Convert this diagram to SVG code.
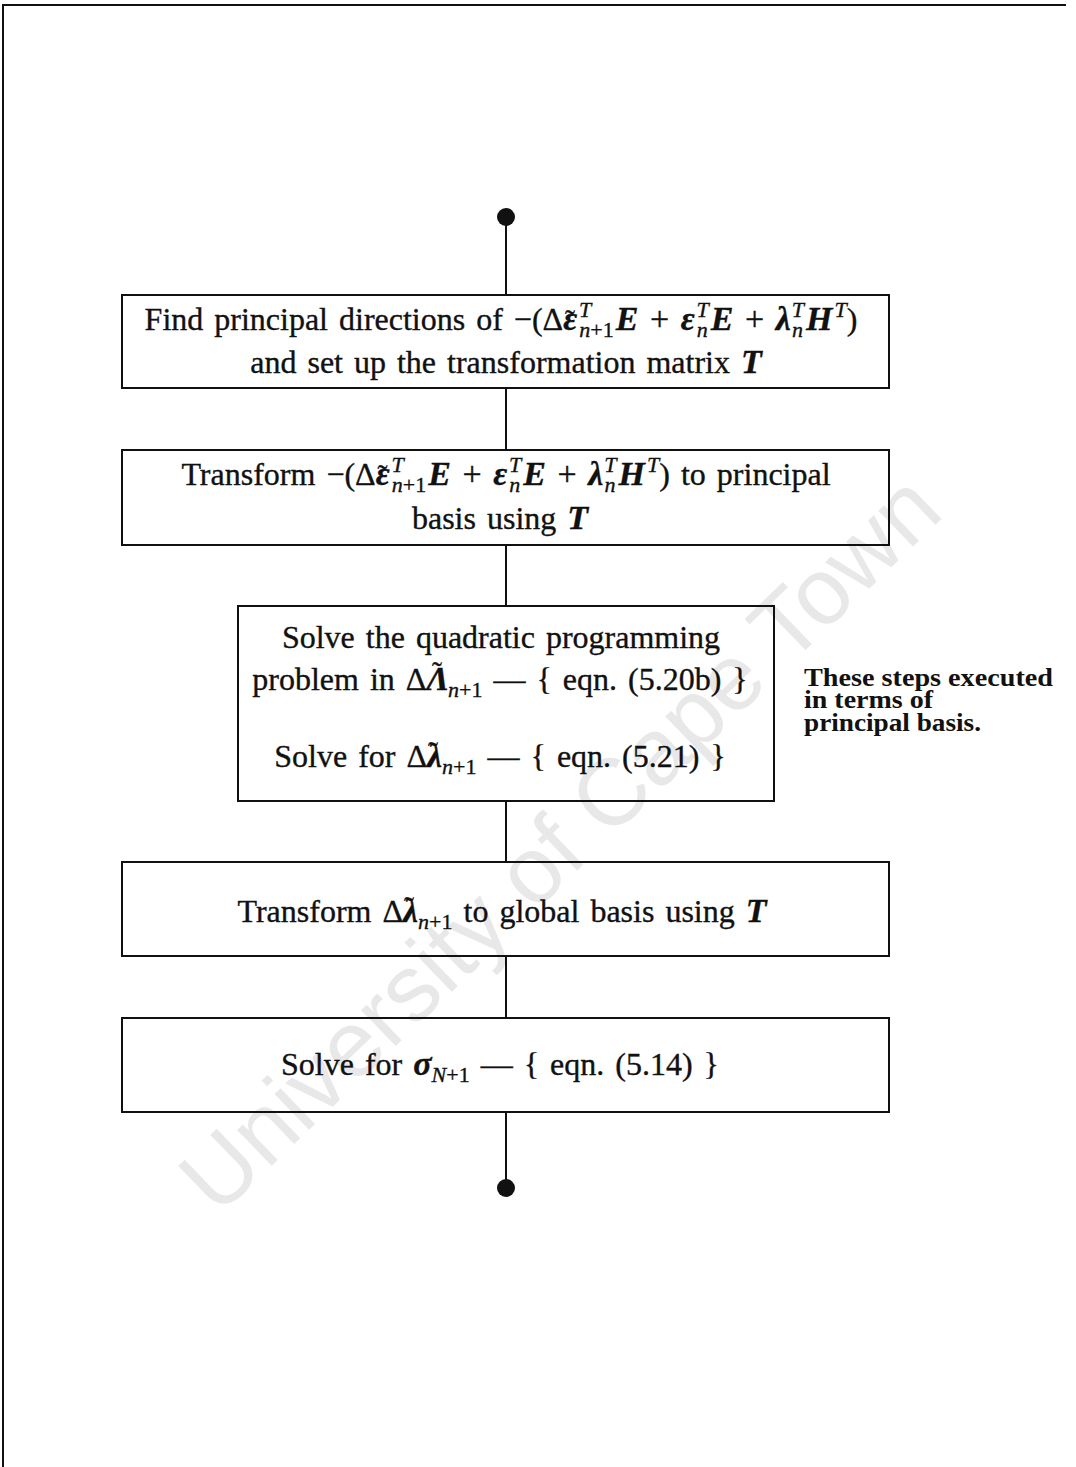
<svg xmlns="http://www.w3.org/2000/svg" width="1076" height="1467" viewBox="0 0 1076 1467">
<style>
.box{fill:none;stroke:#111;stroke-width:2}
.ln{stroke:#111;stroke-width:2;fill:none}
.t{font-family:"Liberation Serif","DejaVu Serif",serif;font-size:32px;fill:#111;word-spacing:3px;stroke:#111;stroke-width:0.35px}
.bi{font-weight:bold;font-style:italic;font-size:34px}
.s{font-size:22px;font-style:italic}
.u{font-style:normal}
.tl{font-size:30px;font-style:normal;font-weight:normal}
.op{font-size:34px}
.note{font-family:"Liberation Serif","DejaVu Serif",serif;font-size:25px;font-weight:bold;fill:#111}
.wm{font-family:"Liberation Sans",Arial,sans-serif;font-size:94px;fill:#e8e8e8}
</style>
<rect width="1076" height="1467" fill="#fff"/>
<text class="wm" text-anchor="middle" transform="translate(582,866) rotate(-44)">University of Cape Town</text>
<path class="ln" d="M3,1467 V5 H1066" stroke-width="2.5"/>
<g id="connectors">
<line class="ln" x1="506" y1="217" x2="506" y2="295"/>
<line class="ln" x1="506" y1="388" x2="506" y2="450"/>
<line class="ln" x1="506" y1="545" x2="506" y2="606"/>
<line class="ln" x1="506" y1="801" x2="506" y2="862"/>
<line class="ln" x1="506" y1="956" x2="506" y2="1018"/>
<line class="ln" x1="506" y1="1112" x2="506" y2="1188"/>
</g>
<g id="start"><circle cx="506" cy="217" r="9" fill="#111"/></g>
<g id="end"><circle cx="506" cy="1188" r="9" fill="#111"/></g>
<g id="step1">
<rect class="box" x="122" y="295" width="767" height="93"/>
<text class="t" x="501" y="330" text-anchor="middle">Find principal directions of −(Δ<tspan class="bi">ε</tspan><tspan class="tl" dx="-12">˜</tspan><tspan class="s" dx="4" dy="-13">T</tspan><tspan class="s" dx="-12" dy="20">n</tspan><tspan class="s u">+1</tspan><tspan class="bi" dx="2" dy="-7">E</tspan><tspan class="op"> + </tspan><tspan class="bi">ε</tspan><tspan class="s" dx="2" dy="-13">T</tspan><tspan class="s" dx="-12" dy="20">n</tspan><tspan class="bi" dx="3" dy="-7">E</tspan><tspan class="op"> + </tspan><tspan class="bi">λ</tspan><tspan class="s" dx="1" dy="-13">T</tspan><tspan class="s" dx="-12" dy="20">n</tspan><tspan class="bi" dx="3" dy="-7">H</tspan><tspan class="s" dx="2" dy="-13">T</tspan><tspan dy="13">)</tspan></text>
<text class="t" x="506" y="373" text-anchor="middle">and set up the transformation matrix <tspan class="bi">T</tspan></text>
</g>
<g id="step2">
<rect class="box" x="122" y="450" width="767" height="95"/>
<text class="t" x="506" y="485" text-anchor="middle">Transform −(Δ<tspan class="bi">ε</tspan><tspan class="tl" dx="-12">˜</tspan><tspan class="s" dx="4" dy="-13">T</tspan><tspan class="s" dx="-12" dy="20">n</tspan><tspan class="s u">+1</tspan><tspan class="bi" dx="2" dy="-7">E</tspan><tspan class="op"> + </tspan><tspan class="bi">ε</tspan><tspan class="s" dx="2" dy="-13">T</tspan><tspan class="s" dx="-12" dy="20">n</tspan><tspan class="bi" dx="3" dy="-7">E</tspan><tspan class="op"> + </tspan><tspan class="bi">λ</tspan><tspan class="s" dx="1" dy="-13">T</tspan><tspan class="s" dx="-12" dy="20">n</tspan><tspan class="bi" dx="3" dy="-7">H</tspan><tspan class="s" dx="2" dy="-13">T</tspan><tspan dy="13">) to principal</tspan></text>
<text class="t" x="500" y="529" text-anchor="middle">basis using <tspan class="bi">T</tspan></text>
</g>
<g id="step3">
<rect class="box" x="238" y="606" width="536" height="195"/>
<text class="t" x="501" y="648" text-anchor="middle">Solve the quadratic programming</text>
<text class="t" x="500" y="690" text-anchor="middle">problem in Δ<tspan class="bi">Λ</tspan><tspan class="tl" dx="-17" dy="-8">˜</tspan><tspan class="s" dx="6" dy="15">n</tspan><tspan class="s u">+1</tspan><tspan dy="-7"> — { eqn. (5.20b) }</tspan></text>
<text class="t" x="500" y="767" text-anchor="middle">Solve for Δ<tspan class="bi">λ</tspan><tspan class="tl" dx="-14" dy="-5">˜</tspan><tspan class="s" dx="4" dy="12">n</tspan><tspan class="s u">+1</tspan><tspan dy="-7"> — { eqn. (5.21) }</tspan></text>
</g>
<g id="note">
<text class="note" x="804" y="686" textLength="249" lengthAdjust="spacingAndGlyphs">These steps executed</text>
<text class="note" x="804" y="708" textLength="129" lengthAdjust="spacingAndGlyphs">in terms of</text>
<text class="note" x="804" y="731" textLength="177" lengthAdjust="spacingAndGlyphs">principal basis.</text>
</g>
<g id="step4">
<rect class="box" x="122" y="862" width="767" height="94"/>
<text class="t" x="502" y="922" text-anchor="middle">Transform Δ<tspan class="bi">λ</tspan><tspan class="tl" dx="-14" dy="-5">˜</tspan><tspan class="s" dx="4" dy="12">n</tspan><tspan class="s u">+1</tspan><tspan dy="-7"> to global basis using </tspan><tspan class="bi">T</tspan></text>
</g>
<g id="step5">
<rect class="box" x="122" y="1018" width="767" height="94"/>
<text class="t" x="500" y="1075" text-anchor="middle">Solve for <tspan class="bi">σ</tspan><tspan class="s" dy="7">N</tspan><tspan class="s u">+1</tspan><tspan dy="-7"> — { eqn. (5.14) }</tspan></text>
</g>
</svg>
